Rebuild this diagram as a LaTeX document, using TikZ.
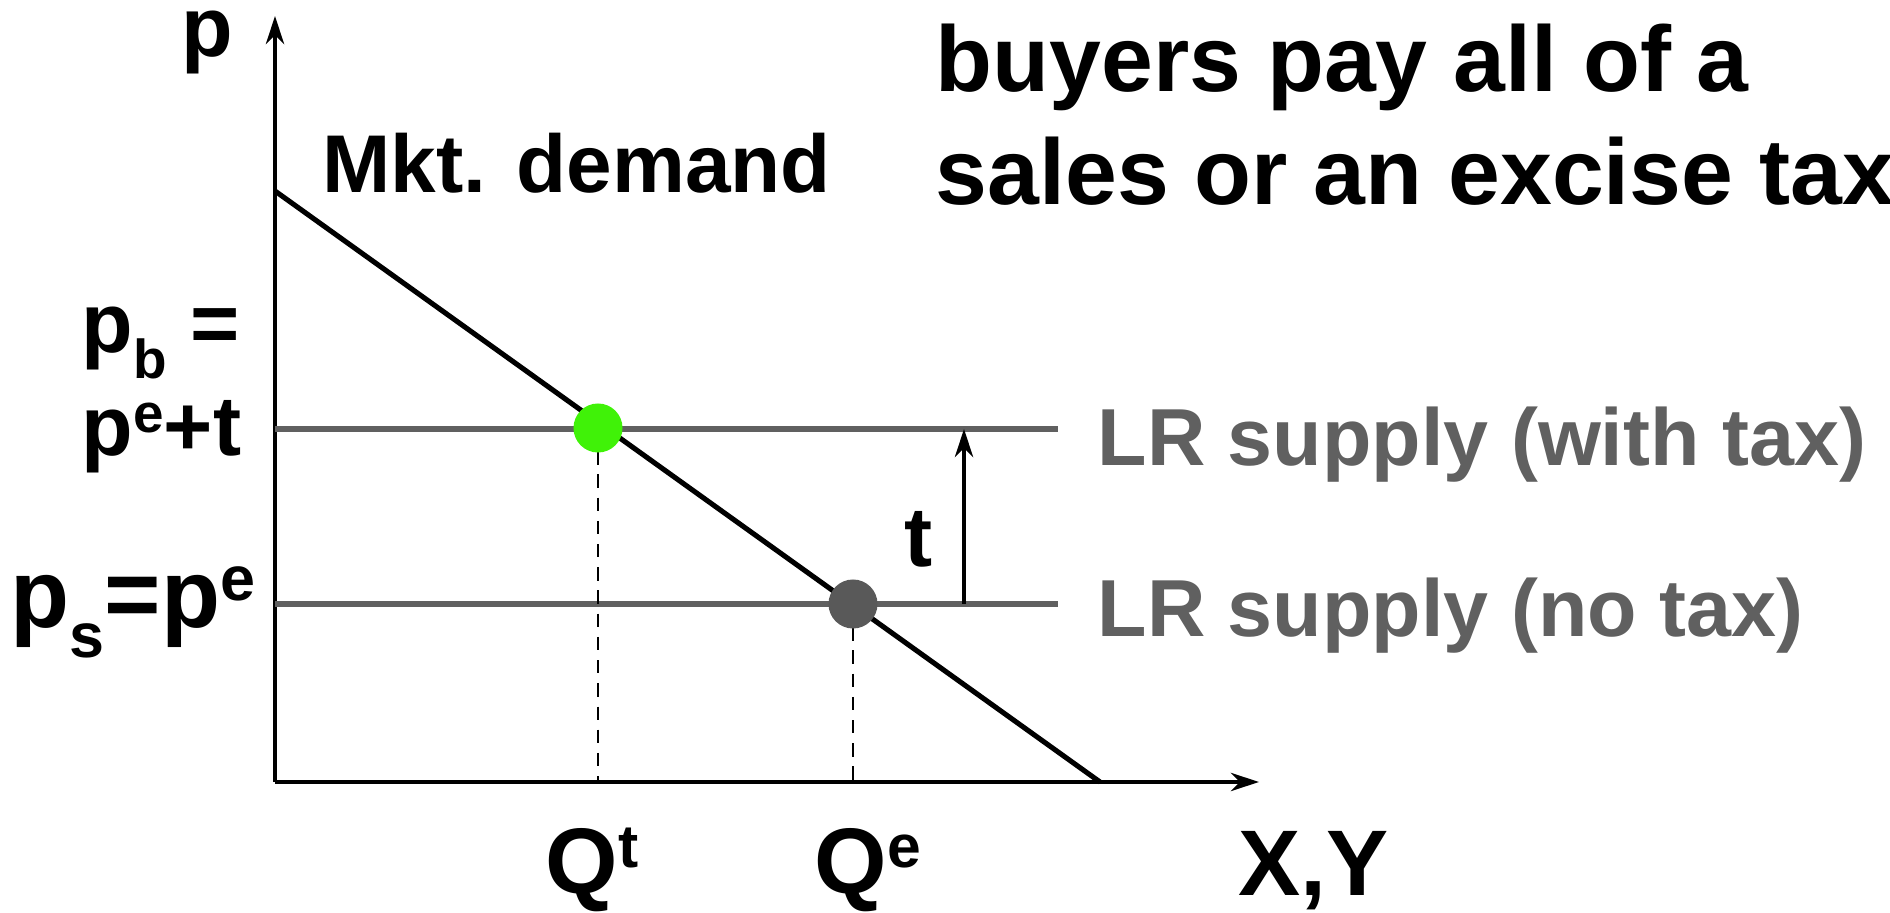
\documentclass[tikz,border=0pt]{standalone}
\usepackage{fontspec}
\setmainfont{Liberation Sans}
\usetikzlibrary{arrows.meta}
\definecolor{supplygray}{RGB}{96,96,96}
\definecolor{dotgreen}{RGB}{64,242,8}
\definecolor{dotgray}{RGB}{89,89,89}
\newcommand{\lowidx}[1]{\raisebox{-0.3em}{\scalebox{0.65}{#1}}}
\newcommand{\highidx}[1]{\raisebox{0.28em}{\scalebox{0.65}{#1}}}

\begin{document}
\begin{tikzpicture}[
    x=0.01cm,
    y=-0.01cm,
    every node/.style={inner sep=0pt, font=\fontsize{24}{28}\selectfont\bfseries},
    big/.style={font=\fontsize{26.5}{30}\selectfont\bfseries},
    bigger/.style={font=\fontsize{27.5}{30}\selectfont\bfseries},
    supplylabel/.style={font=\fontsize{23}{26}\selectfont\bfseries, text=supplygray},
    axis/.style={line width=0.95pt},
    demand/.style={line width=1.45pt},
    supply/.style={line width=1.6pt, supplygray},
    guide/.style={line width=0.8pt, dash pattern=on 3.8pt off 2.8pt},
    dot/.style={circle, minimum size=0.49cm},
    >={Stealth[length=8pt, width=5.2pt]}
]
    \clip (0,0) rectangle (1890,913);

    \coordinate (O) at (275,782);
    \coordinate (ytop) at (275,16);
    \coordinate (xend) at (1259,782);
    \coordinate (dtop) at (275,191);
    \coordinate (dbot) at (1100,782);
    \coordinate (swl) at (275,429);
    \coordinate (swr) at (1058,429);
    \coordinate (snl) at (275,604);
    \coordinate (snr) at (1058,604);
    \coordinate (qt) at (598,428);
    \coordinate (qe) at (853,604);
    \coordinate (tbot) at (964,604);
    \coordinate (ttop) at (964,429);

    \draw[axis, ->] (O) -- (ytop);
    \draw[axis, ->] (O) -- (xend);
    \draw[supply] (swl) -- (swr);
    \draw[supply] (snl) -- (snr);
    \draw[demand] (dtop) -- (dbot);
    \draw[guide] (qt) -- (qt |- O);
    \draw[guide] (qe) -- (qe |- O);
    \draw[axis, ->] (tbot) -- (ttop);

    \node[dot, fill=dotgreen] (eqt) at (qt) {};
    \node[dot, fill=dotgray] (eqe) at (qe) {};

    \node[anchor=base] (plab) at (207,57) {p};
    \node[font=\fontsize{23.3}{28}\selectfont\bfseries, anchor=base west] (mkt) at (322,193) {Mkt. demand};
    \node[big, anchor=base west] (title1) at (935,92) {buyers pay all of a};
    \node[big, anchor=base west] (title2) at (935,205) {sales or an excise tax};
    \node[anchor=base west] (pb) at (81,353) {p\lowidx{b} =};
    \node[anchor=base west] (pet) at (81,456) {p\highidx{e}+t};
    \node[bigger, anchor=base west] (pse) at (10,628) {p\lowidx{s}=p\highidx{e}};
    \node[anchor=base] (tlab) at (919,567) {t};
    \node[supplylabel, anchor=base west] (lrtax) at (1097,466) {LR supply (with tax)};
    \node[supplylabel, anchor=base west] (lrno) at (1097,637) {LR supply (no tax)};
    \node[big, anchor=base west] (qtlab) at (545,894) {Q\highidx{t}};
    \node[big, anchor=base west] (qelab) at (814,894) {Q\highidx{e}};
    \node[big, anchor=base west] (xy) at (1238,896) {X,Y};
\end{tikzpicture}
\end{document}
